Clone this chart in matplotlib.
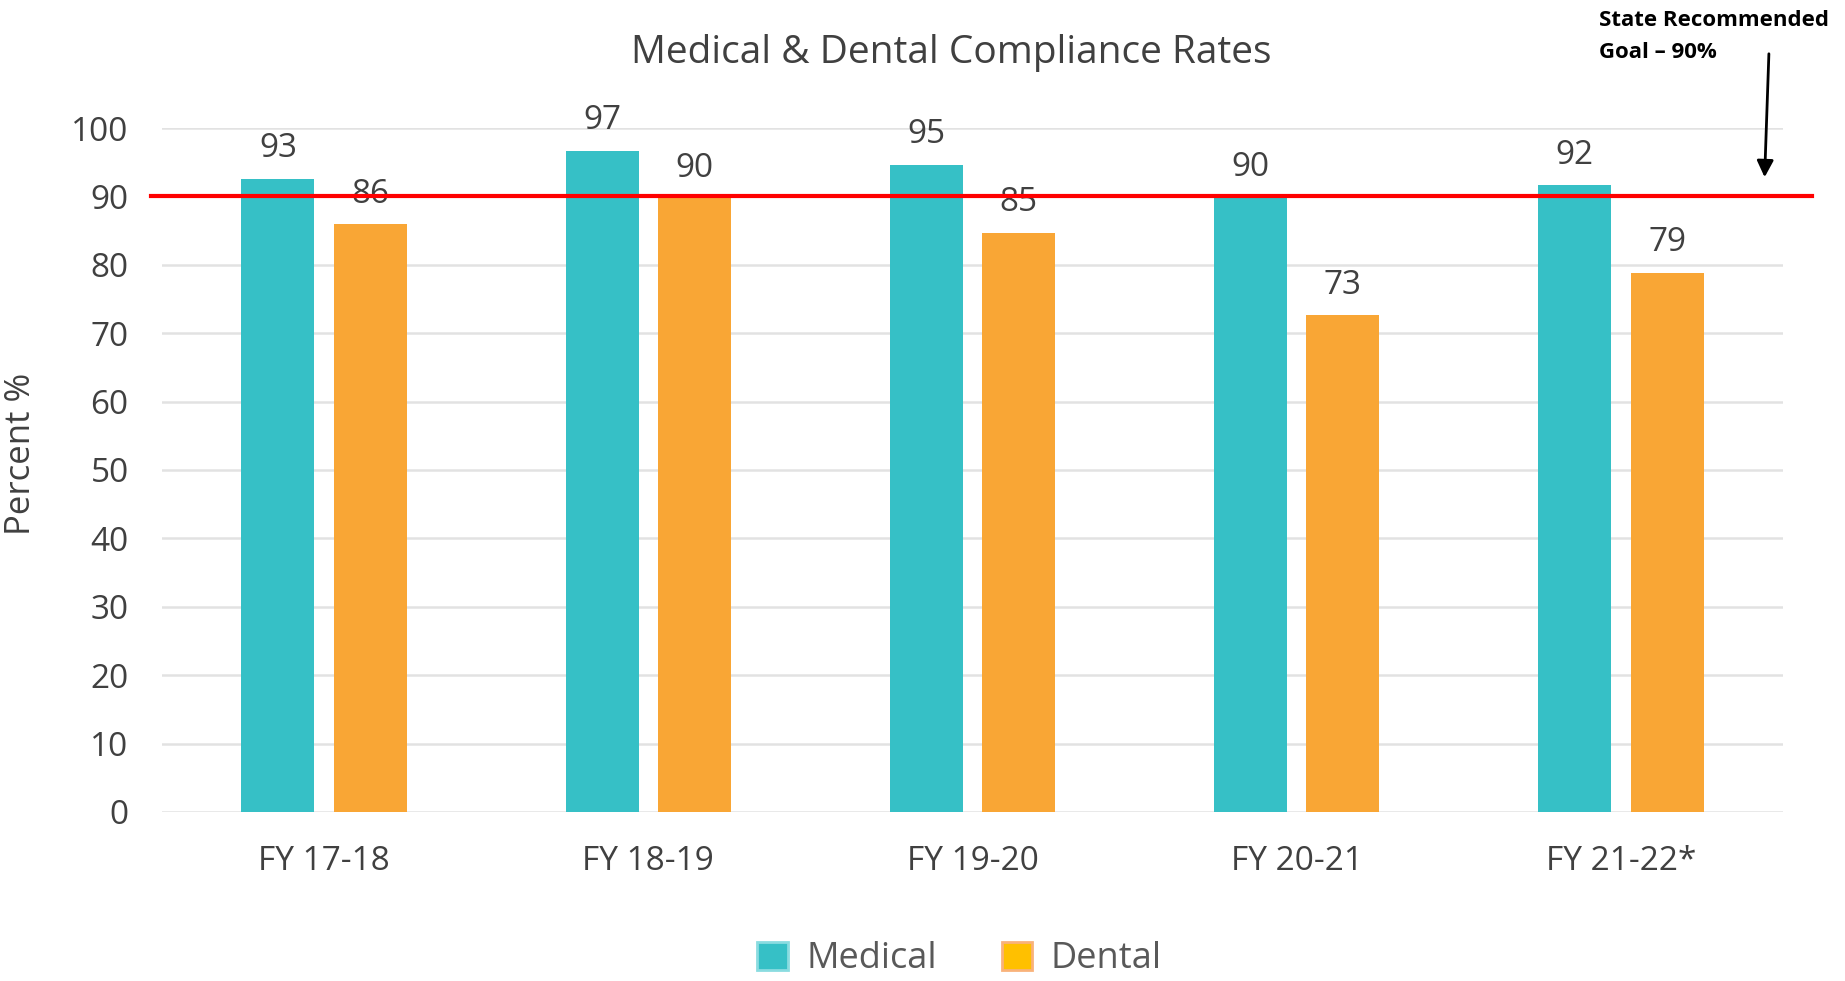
import matplotlib
matplotlib.use("Agg")
import matplotlib.pyplot as plt
import numpy as np
from matplotlib.patches import Patch

plt.rcParams["font.family"] = ["Open Sans", "DejaVu Sans"]

# values
years = ["FY 17-18", "FY 18-19", "FY 19-20", "FY 20-21", "FY 21-22*"]
medical = [92.6, 96.6, 94.6, 89.8, 91.6]
dental = [85.9, 89.7, 84.7, 72.6, 78.8]
goal = 90

teal = "#36C0C6"
orange = "#F9A635"
text_col = "#404040"

fig = plt.figure(figsize=(18.45, 9.81), dpi=100)
ax = fig.add_axes([0.0878, 0.1723, 0.8786, 0.6972])

x = np.arange(len(years))
w = 0.225
off = 0.1425
b1 = ax.bar(x - off, medical, w, color=teal, zorder=2)
b2 = ax.bar(x + off, dental, w, color=orange, zorder=2)

for bars, vals in [(b1, medical), (b2, dental)]:
    for bar, v in zip(bars, vals):
        ax.annotate(f"{v:.0f}", (bar.get_x() + bar.get_width() / 2, v),
                    xytext=(0, 10), textcoords="offset points",
                    ha="center", va="bottom", fontsize=24, color=text_col)

# goal line, runs a bit past the plot area
ax.axhline(goal, xmin=-0.007, xmax=1.018, color="red", lw=3, clip_on=False, zorder=3)

ax.set_xlim(-0.5, len(years) - 0.5)
ax.set_ylim(0, 100)
ax.set_yticks(range(0, 101, 10))
ax.set_xticks(x)
ax.set_xticklabels(years)
ax.grid(axis="y", color="#E2E2E2", lw=1.8, zorder=0)
ax.set_axisbelow(True)
for s in ax.spines.values():
    s.set_visible(False)
ax.tick_params(length=0, labelsize=24, labelcolor=text_col)
ax.tick_params(axis="x", pad=24)
ax.tick_params(axis="y", pad=24)

fig.text(0.0115, 0.537, "Percent %", rotation=90, ha="center", va="center",
         fontsize=25, color=text_col)

fig.text(0.5155, 0.946, "Medical & Dental Compliance Rates", ha="center", va="center",
         fontsize=28, color=text_col)

# state goal note with arrow
fig.text(0.8665, 0.99, "State Recommended\nGoal \u2013 90%", ha="left", va="top",
         fontsize=16, fontweight="bold", color="black", linespacing=1.7)
ax.annotate("", xy=(4.443, 92.4), xycoords="data",
            xytext=(0.9588, 0.948), textcoords="figure fraction",
            arrowprops=dict(arrowstyle="-|>", color="black", lw=2, mutation_scale=25),
            annotation_clip=False)

handles = [Patch(facecolor=teal, edgecolor="#8ADCE0", lw=2, label="Medical"),
           Patch(facecolor="#FFC000", edgecolor="#F9B27A", lw=2, label="Dental")]
fig.legend(handles=handles, loc="center", bbox_to_anchor=(0.52, 0.022), ncol=2,
           frameon=False, fontsize=26, labelcolor="#595959", handlelength=0.85,
           handleheight=0.85, columnspacing=1.8, handletextpad=0.5,
           borderpad=0.1)

fig.savefig("out.png", dpi=100)
